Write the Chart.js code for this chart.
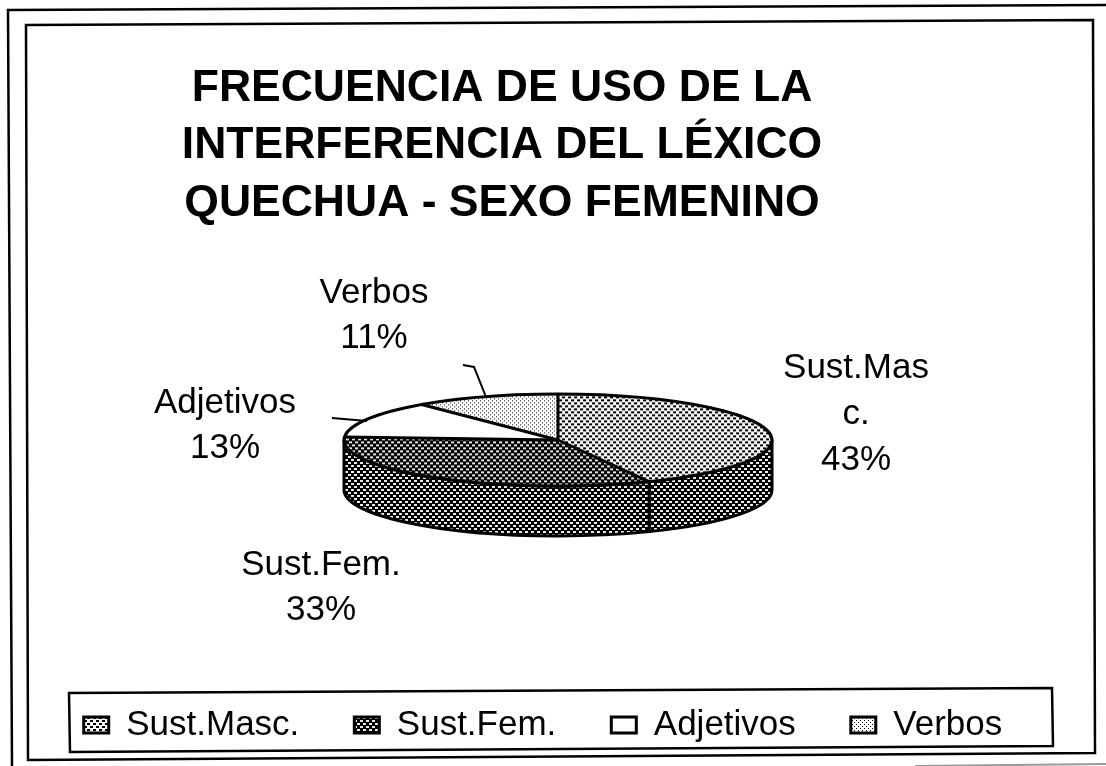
<!DOCTYPE html>
<html><head><meta charset="utf-8">
<style>html,body{margin:0;padding:0;background:#fff}canvas{display:block}</style>
<script src="https://cdn.jsdelivr.net/npm/chart.js@4"></script></head>
<body><canvas id="c" width="1106" height="766" style="width:1106px;height:766px"></canvas>
<script>
const categories=["Sust.Masc.","Sust.Fem.","Adjetivos","Verbos"];
const values=[43,33,13,11];
const sliceLabels=[["Sust.Mas","c.","43%"],["Sust.Fem.","33%"],["Adjetivos","13%"],["Verbos","11%"]];
const titleLines=["FRECUENCIA DE USO DE LA","INTERFERENCIA DEL LÉXICO","QUECHUA - SEXO FEMENINO"];

function pattern(size,cells,bg,fg){
  const c=document.createElement('canvas');c.width=c.height=size;
  const x=c.getContext('2d');x.fillStyle=bg;x.fillRect(0,0,size,size);x.fillStyle=fg;
  cells.forEach(p=>x.fillRect(p[0],p[1],p[2],p[3]));
  return document.createElement('canvas').getContext('2d').createPattern(c,'repeat');
}
const pMasc=()=>pattern(6,[[0,0,3,2],[3,3,3,2]],'#f4f4f4','#000');
const pFem=()=>pattern(6,[[0,0,3,2],[3,3,3,2]],'#000','#e8e8e8');
const pVerb=()=>pattern(4,[[0,0,1,1],[2,2,1,1]],'#fff','#000');
const fills=[pMasc(),pFem(),'#ffffff',pVerb()];
const sideFills=[pFem(),pFem(),pFem(),pFem()];

const G={cx:558,cy:440,rx:214,ry:46,depth:50};
const labelPos=[[856,378,46],[321,575,45],[225,413,45],[374,303,45]];
const leaders=[null,null,[[332,418],[367,421]],[[463,365],[474,367],[486,397]]];
const innerFrame=[[26,25],[1093,20],[1095,753],[28,760]];
const legendFrame=[[69,693],[1052,688],[1053,746],[70,752]];
const outerFrame=[[12,766],[8,10],[1106,5]];

function poly(ctx,pts,close){ctx.beginPath();pts.forEach((p,i)=>i?ctx.lineTo(p[0],p[1]):ctx.moveTo(p[0],p[1]));if(close)ctx.closePath();ctx.stroke();}

const pie3d={id:'pie3d',
  afterLayout(chart){
    chart.titleBlock.left=0;chart.titleBlock.right=1004;
    const L=chart.legend;L.left-=10;L.right-=10;L.top=652.5;
  },
  beforeDatasetsDraw(chart){
    const ctx=chart.ctx,arcs=chart.getDatasetMeta(0).data;
    arcs.forEach((a,i)=>{
      const s=Math.max(a.startAngle,0),e=Math.min(a.endAngle,Math.PI);
      if(e<=s)return;
      ctx.save();ctx.beginPath();
      ctx.ellipse(G.cx,G.cy,G.rx,G.ry,0,s,e,false);
      ctx.ellipse(G.cx,G.cy+G.depth,G.rx,G.ry,0,e,s,true);
      ctx.closePath();ctx.fillStyle=sideFills[i];ctx.fill();
      ctx.lineWidth=3;ctx.strokeStyle='#000';ctx.stroke();ctx.restore();
    });
    arcs.forEach(a=>{
      const sx=G.rx/a.outerRadius,sy=G.ry/a.outerRadius;
      ctx.save();
      ctx.translate(G.cx,G.cy);ctx.scale(sx,sy);ctx.translate(-a.x,-a.y);
      const bg=a.options.backgroundColor;
      if(bg&&bg.setTransform)bg.setTransform(new DOMMatrix().scale(1/sx,1/sy));
      ctx.save();a.draw(ctx);ctx.restore();
      ctx.restore();
    });
    ctx.save();ctx.beginPath();ctx.ellipse(G.cx,G.cy,G.rx,G.ry,0,0,Math.PI*2);ctx.lineWidth=3;ctx.strokeStyle='#000';ctx.stroke();
    arcs.forEach(a=>{ctx.beginPath();ctx.moveTo(G.cx,G.cy);ctx.lineTo(G.cx+G.rx*Math.cos(a.startAngle),G.cy+G.ry*Math.sin(a.startAngle));ctx.stroke();});
    ctx.restore();
    return false;
  },
  afterDraw(chart){
    const ctx=chart.ctx;ctx.save();
    ctx.strokeStyle='#000';ctx.lineWidth=2.5;
    poly(ctx,innerFrame,true);poly(ctx,outerFrame,false);poly(ctx,legendFrame,true);
    ctx.lineWidth=2;
    ctx.strokeStyle='#999';poly(ctx,[[915,766],[1106,764]],false);ctx.strokeStyle='#000';
    leaders.forEach(l=>{if(l)poly(ctx,l,false);});
    ctx.fillStyle='#000';ctx.font='35px "Liberation Sans"';ctx.textAlign='center';ctx.textBaseline='alphabetic';
    sliceLabels.forEach((ls,i)=>{const [x,y,dy]=labelPos[i];ls.forEach((t,j)=>ctx.fillText(t,x,y+j*dy));});
    ctx.restore();
  }
};
new Chart(document.getElementById('c'),{
  type:'pie',
  data:{labels:categories,datasets:[{data:values,backgroundColor:fills,borderWidth:0}]},
  options:{responsive:false,animation:false,events:[],
    layout:{padding:{top:60,bottom:20,left:0,right:0}},
    plugins:{
      title:{display:true,text:titleLines,color:'#000',font:{family:'"Liberation Sans"',size:44.5,weight:'bold',lineHeight:1.29},padding:{top:0,bottom:0}},
      legend:{display:true,position:'bottom',labels:{color:'#000',font:{family:'"Liberation Sans"',size:35},boxWidth:25,boxHeight:16,padding:55,
        generateLabels(chart){return categories.map((t,i)=>({text:t,fillStyle:fills[i],strokeStyle:'#000',lineWidth:3,index:i}));}}},
      tooltip:{enabled:false}
    }},
  plugins:[pie3d]
});
</script></body></html>
